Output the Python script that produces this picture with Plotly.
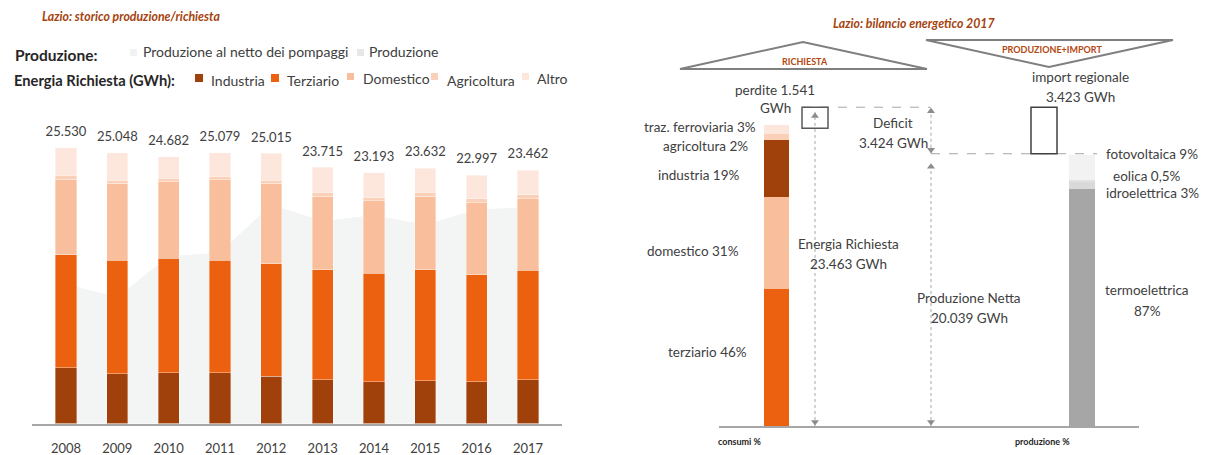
import plotly.graph_objects as go

W, H = 1214, 455

# ---------------- Left panel data (GWh) ----------------
years = ["2008", "2009", "2010", "2011", "2012", "2013", "2014", "2015", "2016", "2017"]
industria = [5147, 4591, 4721, 4721, 4379, 4036, 3851, 3943, 3851, 4036]
terziario = [10460, 10525, 10581, 10396, 10396, 10220, 10062, 10312, 9905, 10155]
domestico = [7007, 7128, 7063, 7433, 7470, 6785, 6693, 6785, 6665, 6637]
agricoltura = [370, 278, 343, 343, 278, 370, 343, 370, 370, 333]
altro = [2546, 2526, 1974, 2186, 2492, 2304, 2244, 2222, 2206, 2301]
totali = [25530, 25048, 24682, 25079, 25015, 23715, 23193, 23632, 22997, 23462]
produzione = [12860, 11710, 15450, 15810, 20250, 18730, 19270, 18380, 19820, 19980]
produzione_netto_pompaggi = [12860, 11710, 15450, 15810, 20250, 18730, 19270, 18380, 19820, 19980]

# ---------------- Right panel data ----------------
cons_labels = ["terziario", "domestico", "industria", "agricoltura", "traz. ferroviaria"]
cons_pct = [46, 31, 19, 2, 3]
prod_labels = ["termoelettrica", "idroelettrica", "eolica", "fotovoltaica"]
prod_pct = [87, 3, 0.5, 9]
richiesta = 23463
perdite = 1541
prod_netta = 20039
deficit = 3424
import_reg = 3423

# ---------------- styles ----------------
C_IND, C_TER, C_DOM, C_AGR, C_ALT = "#A0400A", "#EC6110", "#F9BF9C", "#FAD0B8", "#FDE7DD"
C_AREA, C_AREA2 = "#F3F4F4", "#E6E8E8"
C_PROD = ["#A6A6A6", "#D9D9D9", "#E2E2E2", "#F2F2F2"]
C_CONS = [C_TER, C_DOM, C_IND, C_AGR, C_ALT]
BROWN = "#A5430E"
TXT = "#404040"
FONT = "Lato"


def fx(px):
    return px / W


def fy(py):
    return 1 - py / H


def it(v):
    return f"{v:,}".replace(",", ".")


fig = go.Figure()

# production areas (behind bars, on base axis y)
fig.add_trace(go.Scatter(x=years, y=produzione, fill="tozeroy", mode="lines",
                         line=dict(width=0, color=C_AREA2), fillcolor=C_AREA,
                         xaxis="x", yaxis="y", showlegend=False, hoverinfo="skip"))
fig.add_trace(go.Scatter(x=years, y=produzione_netto_pompaggi, fill="tozeroy", mode="lines",
                         line=dict(width=0, color=C_AREA), fillcolor=C_AREA,
                         xaxis="x", yaxis="y", showlegend=False, hoverinfo="skip"))

# stacked bars on overlaying axis y3
for name, vals, col in [("Industria", industria, C_IND), ("Terziario", terziario, C_TER),
                        ("Domestico", domestico, C_DOM), ("Agricoltura", agricoltura, C_AGR),
                        ("Altro", altro, C_ALT)]:
    fig.add_trace(go.Bar(x=years, y=vals, name=name,
                         marker=dict(color=col, line=dict(width=0.6, color="rgba(255,255,255,0.6)")),
                         width=0.41, xaxis="x", yaxis="y3", showlegend=False))

fig.add_trace(go.Scatter(x=years, y=totali, mode="markers+text", text=[it(v) for v in totali],
                         marker=dict(size=12, opacity=0),
                         textposition="top center", textfont=dict(size=13, color=TXT, family=FONT),
                         xaxis="x", yaxis="y3", showlegend=False, hoverinfo="skip"))

# ---------------- right panel ----------------
X_CONS, X_PERD, X_DEF, X_IMP, X_PROD = 776.5, 815, 931, 1044, 1082
BW = 25
consumi = richiesta - perdite

for lab, p, col in zip(cons_labels, cons_pct, C_CONS):
    fig.add_trace(go.Bar(x=[X_CONS], y=[p / 100 * consumi], width=BW, marker=dict(color=col, line=dict(width=0)),
                         xaxis="x2", yaxis="y2", showlegend=False, name=lab))
for lab, p, col in zip(prod_labels, prod_pct, C_PROD):
    fig.add_trace(go.Bar(x=[X_PROD], y=[p / 100 * prod_netta], width=BW + 1, marker=dict(color=col, line=dict(width=0)),
                         xaxis="x2", yaxis="y2", showlegend=False, name=lab))

ARROW = "#8C8C8C"
INS = 300  # small inset so the arrow tips touch their ends


def v_arrow(x, y0, y1, top_head=True, bottom_head=True):
    fig.add_trace(go.Scatter(x=[x, x], y=[y0, y1], mode="lines", line=dict(color="#A6A6A6", width=1, dash="dot"),
                             xaxis="x2", yaxis="y2", showlegend=False, hoverinfo="skip"))
    xs, ys, sy = [], [], []
    if bottom_head:
        xs.append(x); ys.append(y0 + INS); sy.append("triangle-down")
    if top_head:
        xs.append(x); ys.append(y1 - INS); sy.append("triangle-up")
    fig.add_trace(go.Scatter(x=xs, y=ys, mode="markers", marker=dict(symbol=sy, size=7, color=ARROW),
                             xaxis="x2", yaxis="y2", showlegend=False, hoverinfo="skip"))


# dashed horizontal guides
fig.add_trace(go.Scatter(x=[X_PERD - 13, X_DEF], y=[richiesta, richiesta], mode="lines",
                         line=dict(color="#A6A6A6", width=1, dash="dash"), xaxis="x2", yaxis="y2",
                         showlegend=False, hoverinfo="skip"))
fig.add_trace(go.Scatter(x=[X_DEF, X_PROD + 15], y=[prod_netta, prod_netta], mode="lines",
                         line=dict(color="#A6A6A6", width=1, dash="dash"), xaxis="x2", yaxis="y2",
                         showlegend=False, hoverinfo="skip"))

v_arrow(X_PERD, 0, richiesta - 350)
v_arrow(X_DEF, prod_netta, richiesta)
v_arrow(X_DEF, 0, prod_netta - 650)

shapes = []
# perdite box and import box
shapes.append(dict(type="rect", xref="x2", yref="y2", x0=X_PERD - 13, x1=X_PERD + 13,
                   y0=consumi, y1=richiesta, line=dict(color="#595959", width=1.5), fillcolor="rgba(0,0,0,0)"))
shapes.append(dict(type="rect", xref="x2", yref="y2", x0=X_IMP - 13, x1=X_IMP + 13,
                   y0=prod_netta, y1=prod_netta + import_reg, line=dict(color="#404040", width=1.5),
                   fillcolor="rgba(0,0,0,0)"))


# triangles
def tri(pts):
    p = "M " + " L ".join(f"{fx(a)} {fy(b)}" for a, b in pts) + " Z"
    return dict(type="path", xref="paper", yref="paper", path=p, line=dict(color="#7F7F7F", width=2))


shapes.append(tri([(680, 69), (803, 42), (927, 69)]))
shapes.append(tri([(926, 40), (1173, 40), (1049, 67)]))

# legend squares
leg = [(130, 49, 7, 7, "#F2F2F2"), (357, 49, 7, 7, C_AREA2),
       (195, 74, 8, 8, C_IND), (271, 74, 8, 8, C_TER), (347, 73, 7, 7, C_DOM),
       (431, 73, 7, 7, C_AGR), (522, 73, 7, 7, C_ALT)]
for x0, y0, w, h, c in leg:
    shapes.append(dict(type="rect", xref="paper", yref="paper", x0=fx(x0), x1=fx(x0 + w),
                       y0=fy(y0 + h), y1=fy(y0), line=dict(width=0), fillcolor=c))

ann = []


def A(text, x, y, size=13.5, color=TXT, xanchor="center"):
    ann.append(dict(text=text, x=fx(x), y=fy(y), xref="paper", yref="paper", showarrow=False,
                    xanchor=xanchor, yanchor="middle", font=dict(size=size, color=color, family=FONT)))


A("<b><i>Lazio: storico produzione/richiesta</i></b>", 40, 17, 12.3, BROWN, "left")
A("<b>Produzione:</b>", 13, 55, 15.5, "#262626", "left")
A("<b>Energia Richiesta (GWh):</b>", 12, 80, 14.7, "#262626", "left")
A("Produzione al netto dei pompaggi", 141, 51, 14, TXT, "left")
A("Produzione", 367, 51, 14, TXT, "left")
A("Industria", 209, 80, 14, TXT, "left")
A("Terziario", 285, 80, 14, TXT, "left")
A("Domestico", 361, 78, 14, TXT, "left")
A("Agricoltura", 445, 80, 14, TXT, "left")
A("Altro", 535, 78, 14, TXT, "left")

A("<b><i>Lazio: bilancio energetico 2017</i></b>", 914, 23, 12.3, BROWN)
A("<b>RICHIESTA</b>", 805, 62, 9, "#B3470F")
A("<b>PRODUZIONE+IMPORT</b>", 1052, 49, 9, "#B3470F")
A(f"perdite {it(perdite)}", 775, 90)
A("GWh", 775, 108)
cons_pos = [(749, 352), (741, 251), (742, 175), (750, 146), (758, 127)]
for lab, p, (x, y) in zip(cons_labels, cons_pct, cons_pos):
    A(f"{lab} {p}%", x, y, 13.5, TXT, "right")
A("Deficit", 893, 123)
A(f"{it(deficit)} GWh", 893, 143)
A("Energia Richiesta", 848, 244)
A(f"{it(richiesta)} GWh", 848, 264)
A("Produzione Netta", 969, 298)
A(f"{it(prod_netta)} GWh", 969, 318)
A("import regionale", 1080, 77)
A(f"{it(import_reg)} GWh", 1080, 97)
A(f"{prod_labels[3]} {prod_pct[3]}%", 1104, 154, 13.5, TXT, "left")
A(f"{prod_labels[2]} {str(prod_pct[2]).replace('.', ',')}%", 1147, 176)
A(f"{prod_labels[1]} {prod_pct[1]}%", 1104, 193, 13.5, TXT, "left")
A(prod_labels[0], 1147, 290)
A(f"{prod_pct[0]}%", 1147, 311)
A("<b>consumi %</b>", 740, 441, 9, "#262626")
A("<b>produzione %</b>", 1042, 441, 9, "#262626")

Y1_MAX = 30000
Y2_MAX = 26000
fig.update_layout(
    width=W, height=H, margin=dict(l=0, r=0, t=0, b=0),
    paper_bgcolor="white", plot_bgcolor="rgba(0,0,0,0)",
    barmode="stack", showlegend=False, font=dict(family=FONT, color=TXT),
    xaxis=dict(domain=[fx(32), fx(562)], type="category", showline=True, linecolor="#A6A6A6", linewidth=1.5,
               showgrid=False, zeroline=False, ticks="", tickfont=dict(size=13, color=TXT, family=FONT),
               ticklabelstandoff=12, anchor="y"),
    yaxis=dict(domain=[fy(423.5), fy(423.5 - Y1_MAX / 92.57)], range=[0, Y1_MAX], visible=False, anchor="x"),
    yaxis3=dict(overlaying="y", range=[0, Y1_MAX], visible=False, anchor="x"),
    xaxis2=dict(domain=[fx(719), fx(1139)], range=[719, 1139], showline=True, linecolor="#A6A6A6", linewidth=1.5,
                showgrid=False, zeroline=False, showticklabels=False, ticks="", anchor="y2"),
    yaxis2=dict(domain=[fy(426), fy(426 - Y2_MAX / 73.6)], range=[0, Y2_MAX], visible=False, anchor="x2"),
    shapes=shapes, annotations=ann,
)

fig.write_html("out.html", config={"displayModeBar": False},
               post_script="document.body.style.margin='0';document.body.style.padding='0';")
